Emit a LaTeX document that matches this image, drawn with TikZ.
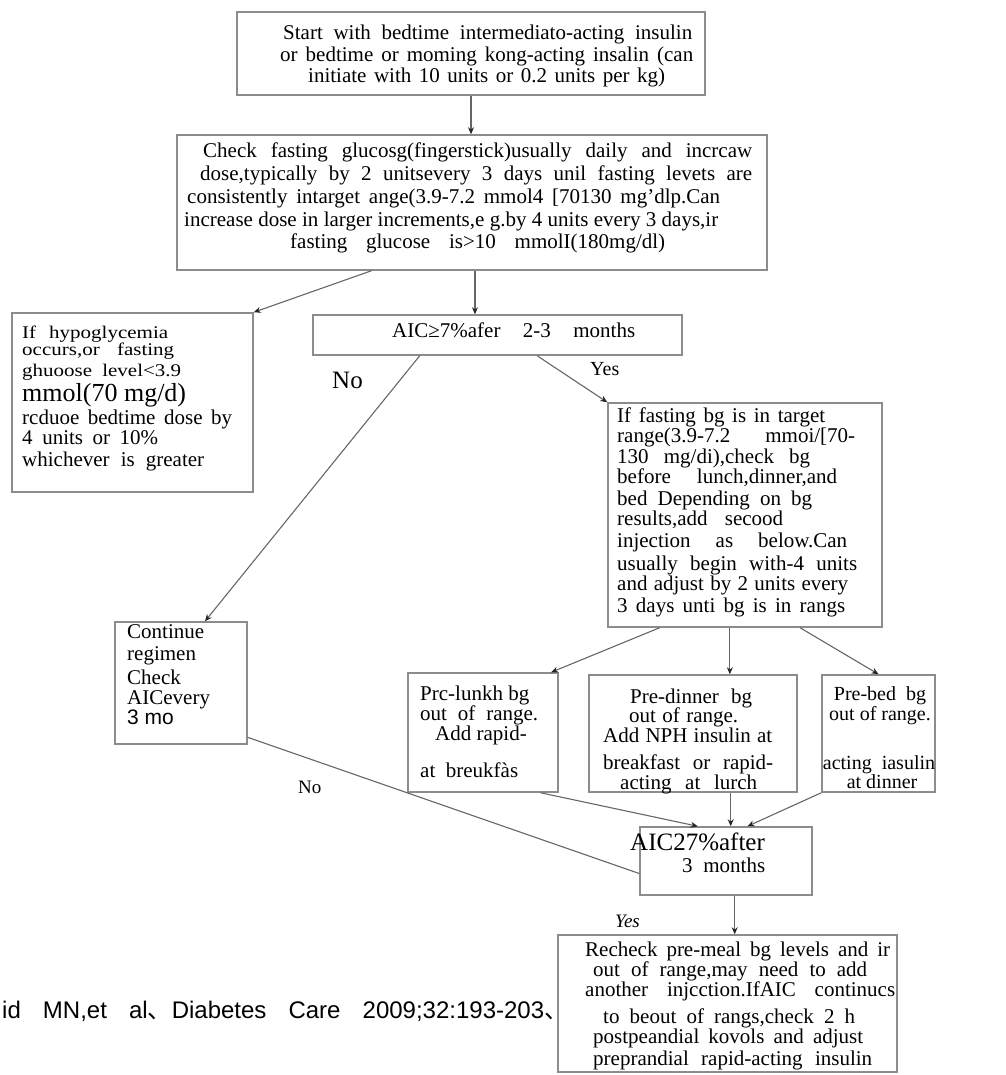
\documentclass[tikz,border=0pt]{standalone}
\usepackage{graphicx}
\usepackage{fontspec}
\setmainfont{Liberation Serif}
\newfontfamily\citesans{Liberation Sans}
\newfontfamily\cjkfont{Noto Sans CJK SC}
\usetikzlibrary{calc,arrows.meta}
\newcommand{\jline}[2]{\makebox[#1pt][s]{#2}}
\newcommand{\sqline}[2]{\scalebox{1}[0.85]{\makebox[#1pt][s]{#2}}}
\begin{document}
\begin{tikzpicture}[x=1pt,y=-1pt,
  box/.style={draw=black!45, line width=1.5pt, fill=white, inner sep=0pt},
  conn/.style={draw=black!60, line width=1.1pt},
  arr/.style={conn, -{Stealth[length=7pt,width=6pt,color=black!85]}},
  tx/.style={anchor=base west, inner sep=0pt, font=\fontsize{21}{22}\selectfont},
  tc/.style={anchor=base, inner sep=0pt, font=\fontsize{20}{22}\selectfont},
  lbl/.style={anchor=base west, inner sep=0pt},
]
\useasboundingbox (0,0) rectangle (1005,1075);

% boxes
\node[box, minimum width=468pt, minimum height=83pt]  (b1)  at (471,53.5) {};
\node[box, minimum width=590pt, minimum height=135pt] (b2)  at (472,202.5) {};
\node[box, minimum width=241pt, minimum height=179pt] (b3)  at (132.5,402.5) {};
\node[box, minimum width=369pt, minimum height=40pt]  (b4)  at (497.5,335) {};
\node[box, minimum width=274pt, minimum height=224pt] (b5)  at (745,515) {};
\node[box, minimum width=132pt, minimum height=122pt] (b6)  at (181,683) {};
\node[box, minimum width=150pt, minimum height=119pt] (b7)  at (483,732.5) {};
\node[box, minimum width=208pt, minimum height=117pt] (b8)  at (693,733.5) {};
\node[box, minimum width=113pt, minimum height=117pt] (b9)  at (878.5,733.5) {};
\node[box, minimum width=172pt, minimum height=68pt]  (b10) at (726,861) {};
\node[box, minimum width=339pt, minimum height=137pt] (b11) at (727.5,1003.5) {};

% connectors
\draw[arr] (b1.south) -- (b1.south |- b2.north);
\coordinate (p24) at ($(b2.south west)!0.505!(b2.south east)$);
\draw[arr] (p24) -- (p24 |- b4.north);
\draw[arr] ($(b2.south west)!0.33!(b2.south east)$) -- (b3.north east);
\draw[arr] ($(b4.south west)!0.29!(b4.south east)$) -- ($(b6.north west)!0.68!(b6.north east)$);
\draw[arr] ($(b4.south west)!0.607!(b4.south east)$) -- (b5.north west);
\draw[arr] ($(b5.south west)!0.19!(b5.south east)$) -- ($(b7.north west)!0.95!(b7.north east)$);
\coordinate (p58) at ($(b5.south west)!0.445!(b5.south east)$);
\draw[arr] (p58) -- (p58 |- b8.north);
\draw[arr] ($(b5.south west)!0.70!(b5.south east)$) -- (b9.north);
\draw[arr] ($(b7.south west)!0.88!(b7.south east)$) -- ($(b10.north west)!0.337!(b10.north east)$);
\coordinate (p810) at ($(b8.south west)!0.68!(b8.south east)$);
\draw[arr] (p810) -- (p810 |- b10.north);
\draw[arr] (b9.south west) -- ($(b10.north west)!0.624!(b10.north east)$);
\draw[conn] ($(b6.south east)!0.06!(b6.north east)$) -- ($(b10.south west)!0.32!(b10.north west)$);
\coordinate (p1011) at ($(b10.south west)!0.55!(b10.south east)$);
\draw[arr] (p1011) -- (p1011 |- b11.north);

% b1 text
\node[tx] (t1a) at (283,40) {\jline{409}{Start with bedtime intermediato-acting insulin}};
\node[tx] (t1b) at (280,62) {\jline{413}{or bedtime or moming kong-acting insalin (can}};
\node[tx] (t1c) at (308,83) {\jline{357}{initiate with 10 units or 0.2 units per kg)}};

% b2 text
\node[tx] (t2a) at (203,158) {\jline{549}{Check fasting glucosg(fingerstick)usually daily and incrcaw}};
\node[tx] (t2b) at (200,181) {\jline{552}{dose,typically by 2 unitsevery 3 days unil fasting levets are}};
\node[tx] (t2c) at (187,204) {\jline{533}{consistently intarget ange(3.9-7.2 mmol4 [70130 mg'dlp.Can}};
\node[tx] (t2d) at (184,226) {\jline{534}{increase dose in larger increments,e g.by 4 units every 3 days,ir}};
\node[tx] (t2e) at (290,248) {\jline{375}{fasting glucose is>10 mmolI(180mg/dl)}};

% b3 text
\node[tx] (t3a) at (22,338) {\sqline{146}{If hypoglycemia}};
\node[tx] (t3b) at (22,355) {\sqline{152}{occurs,or fasting}};
\node[tx] (t3c) at (22,376) {\sqline{159}{ghuoose level<3.9}};
\node[lbl, font=\fontsize{26}{28}\selectfont] (t3d) at (22,401) {mmol(70 mg/d)};
\node[tx] (t3e) at (22,424) {\jline{210}{rcduoe bedtime dose by}};
\node[tx] (t3f) at (22,444) {\jline{136}{4 units or 10\%}};
\node[tx] (t3g) at (22,466) {\jline{182}{whichever is greater}};

% b4 text and labels
\node[tx] (t4) at (392,337) {\jline{243}{AIC≥7\%afer 2-3 months}};
\node[lbl, font=\fontsize{25}{27}\selectfont] (no1) at (332,388) {No};
\node[lbl, font=\fontsize{20}{22}\selectfont] (yes1) at (590,375) {Yes};

% b5 text
\node[tx] (t5a) at (617,422) {\jline{208}{If fasting bg is in target}};
\node[tx] (t5b) at (617,442) {\jline{238}{range(3.9-7.2 mmoi/[70-}};
\node[tx] (t5c) at (617,463) {\jline{193}{130 mg/di),check bg}};
\node[tx] (t5d) at (617,483) {\jline{220}{before lunch,dinner,and}};
\node[tx] (t5e) at (617,505) {\jline{195}{bed Depending on bg}};
\node[tx] (t5f) at (617,525) {\jline{166}{results,add secood}};
\node[tx] (t5g) at (617,547) {\jline{230}{injection as below.Can}};
\node[tx] (t5h) at (617,570) {\jline{240}{usually begin with-4 units}};
\node[tx] (t5i) at (617,590) {\jline{231}{and adjust by 2 units every}};
\node[tx] (t5j) at (617,612) {\jline{228}{3 days unti bg is in rangs}};

% b6 text
\node[tx] (t6a) at (127,638) {Continue};
\node[tx] (t6b) at (127,660) {regimen};
\node[tx] (t6c) at (127,684) {Check};
\node[tx] (t6d) at (127,704) {AICevery};
\node[tx, font=\citesans\fontsize{21}{22}\selectfont] (t6e) at (127,724) {3 mo};
\node[lbl, font=\fontsize{19}{21}\selectfont] (no2) at (298,793) {No};

% b7 text
\node[tx] (t7a) at (420,700) {Prc-lunkh bg};
\node[tx] (t7b) at (420,720) {\jline{118}{out of range.}};
\node[tx] (t7c) at (435,740) {Add rapid-};
\node[tx] (t7d) at (420,777) {\jline{98}{at breukfàs}};

% b8 text
\node[tx] (t8a) at (630,703) {\jline{122}{Pre-dinner bg}};
\node[tx] (t8b) at (629,722) {\jline{109}{out of range.}};
\node[tx] (t8c) at (603,742) {\jline{169}{Add NPH insulin at}};
\node[tx] (t8d) at (603,769) {\jline{170}{breakfast or rapid-}};
\node[tx] (t8e) at (620,789) {\jline{137}{acting at lurch}};

% b9 text
\node[tc] (t9a) at (880,700) {Pre-bed~~bg};
\node[tc] (t9b) at (880,720) {out of range.};
\node[tc] (t9c) at (879,769) {acting~~iasulin};
\node[tc] (t9d) at (882,788) {at dinner};

% b10 text
\node[lbl, font=\fontsize{25}{27}\selectfont] (t10a) at (630,850) {AIC27\%after};
\node[tx] (t10b) at (682,872) {\jline{83}{3 months}};
\node[lbl, font=\itshape\fontsize{19}{21}\selectfont] (yes2) at (615,927) {Yes};

% b11 text
\node[tx] (t11a) at (585,956) {\jline{305}{Recheck pre-meal bg levels and ir}};
\node[tx] (t11b) at (593,976) {\jline{274}{out of range,may need to add}};
\node[tx] (t11c) at (585,996) {\jline{310}{another injcction.IfAIC continucs}};
\node[tx] (t11d) at (603,1023) {\jline{252}{to beout of rangs,check 2 h}};
\node[tx] (t11e) at (593,1043) {\jline{270}{postpeandial kovols and adjust}};
\node[tx] (t11f) at (593,1065) {\jline{279}{preprandial rapid-acting insulin}};

% citation
\node[lbl, font=\citesans\fontsize{24}{26}\selectfont] (cite) at (2,1018)
  {\jline{566}{id MN,et al{\cjkfont 、}Diabetes Care 2009;32:193-203{\cjkfont 、}}};
\end{tikzpicture}
\end{document}
